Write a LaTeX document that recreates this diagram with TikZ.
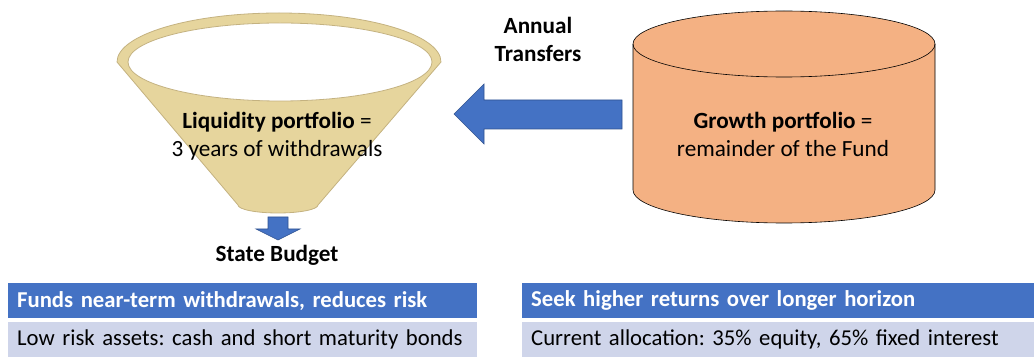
\documentclass[tikz,border=0pt]{standalone}
\usepackage{fontspec}
\setmainfont{Carlito}
\usepackage{tikz}
\usetikzlibrary{positioning}
\definecolor{funnelfill}{RGB}{230,213,157}
\definecolor{funneldraw}{RGB}{196,178,128}
\definecolor{growthfill}{RGB}{244,177,131}
\definecolor{arrowblue}{RGB}{68,114,196}
\definecolor{arrowdraw}{RGB}{47,82,143}
\definecolor{rowfill}{RGB}{207,213,234}
\frenchspacing

\begin{document}
\begin{tikzpicture}[x=1pt,y=-1pt,
    txt/.style={font=\fontsize{23.2}{28}\selectfont, align=center, inner sep=0pt},
    headcell/.style={txt, anchor=north west, fill=arrowblue, text=white, font=\fontsize{22.7}{28}\selectfont\bfseries,
      minimum height=35pt, text width=#1, inner xsep=9pt, align=left},
    rowcell/.style={txt, anchor=north west, fill=rowfill, text=black, font=\fontsize{22.7}{28}\selectfont,
      minimum height=35pt, text width=#1, inner xsep=9pt, align=left},
    blockarrow/.style={fill=arrowblue, draw=arrowdraw, line width=0.6pt}]
    \useasboundingbox (0,0) rectangle (1034,358);
    \path[fill=funnelfill, draw=funneldraw, line width=0.8pt]
        (117,62) -- (238,205) arc[start angle=180, end angle=0, x radius=40, y radius=8]
        -- (441,62) arc[start angle=0, end angle=-180, x radius=162, y radius=49] -- cycle;
    \draw[fill=white, draw=funneldraw, line width=0.8pt] (280,62) ellipse[x radius=152, y radius=39];
    \path[fill=growthfill, draw=black, line width=0.6pt]
        (633,44) -- (633,190) arc[start angle=180, end angle=0, x radius=151, y radius=33]
        -- (935,44) arc[start angle=0, end angle=-180, x radius=151, y radius=33] -- cycle;
    \draw[line width=0.6pt] (633,44) arc[start angle=180, end angle=0, x radius=151, y radius=33];
    \path[blockarrow] (454,114) -- (484,84) -- (484,100) -- (622,100) -- (622,129) -- (484,129) -- (484,144) -- cycle;
    \path[blockarrow] (278,240) -- (300,229) -- (288,229) -- (288,217) -- (268,217) -- (268,229) -- (256,229) -- cycle;
    \node[txt] (liquidity) at (277,136) {\textbf{Liquidity portfolio} =\\3 years of withdrawals};
    \node[txt] (growth) at (783,134) {\textbf{Growth portfolio} =\\remainder of the Fund};
    \node[txt, font=\fontsize{23.2}{28}\selectfont\bfseries] (transfers) at (538,39) {Annual\\Transfers};
    \node[txt, font=\fontsize{23.2}{28}\selectfont\bfseries] (budget) at (277,255) {State Budget};
    \node[headcell=451pt] (lefthead) at (8,283) {Funds near-term withdrawals, reduces risk};
    \node[rowcell=451pt] (leftrow) at (8,322) {Low risk assets: cash and short maturity bonds};
    \node[headcell=494pt] (righthead) at (522,283) {Seek higher returns over longer horizon};
    \node[rowcell=494pt] (rightrow) at (522,322) {Current allocation: 35\% equity, 65\% fixed interest};
\end{tikzpicture}
\end{document}
